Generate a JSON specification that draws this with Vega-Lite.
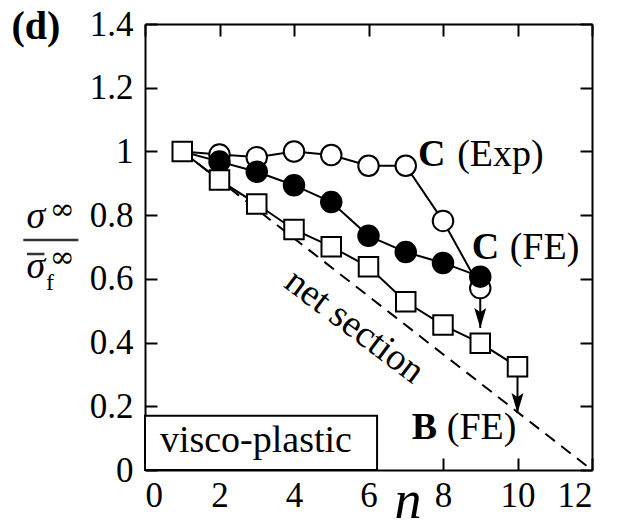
{
  "$schema": "https://vega.github.io/schema/vega-lite/v6.json",
  "autosize": "none",
  "width": 447,
  "height": 446,
  "padding": {"left": 145, "top": 24, "right": 30, "bottom": 61},
  "background": "white",
  "config": {
    "view": {"stroke": null},
    "font": "Liberation Serif",
    "style": {"guide-label": {"font": "Liberation Serif", "fontSize": 35, "fill": "black"}},
    "axis": {"grid": false, "domainColor": "black", "domainWidth": 2, "tickColor": "black", "tickWidth": 2, "tickSize": -12, "labelColor": "black", "labelFont": "Liberation Serif", "labelFontSize": 35, "title": null}
  },
  "datasets": {
    "series": [
      {"n": 1, "v": 1, "s": "exp"}, {"n": 2, "v": 0.99, "s": "exp"}, {"n": 3, "v": 0.982, "s": "exp"}, {"n": 4, "v": 1.0, "s": "exp"}, {"n": 5, "v": 0.989, "s": "exp"}, {"n": 6, "v": 0.955, "s": "exp"}, {"n": 7, "v": 0.955, "s": "exp"}, {"n": 8, "v": 0.782, "s": "exp"}, {"n": 9, "v": 0.571, "s": "exp"},
      {"n": 1, "v": 1, "s": "fe"}, {"n": 2, "v": 0.968, "s": "fe"}, {"n": 3, "v": 0.936, "s": "fe"}, {"n": 4, "v": 0.894, "s": "fe"}, {"n": 5, "v": 0.841, "s": "fe"}, {"n": 6, "v": 0.735, "s": "fe"}, {"n": 7, "v": 0.684, "s": "fe"}, {"n": 8, "v": 0.65, "s": "fe"}, {"n": 9, "v": 0.607, "s": "fe"},
      {"n": 1, "v": 1, "s": "b"}, {"n": 2, "v": 0.91, "s": "b"}, {"n": 3, "v": 0.835, "s": "b"}, {"n": 4, "v": 0.755, "s": "b"}, {"n": 5, "v": 0.701, "s": "b"}, {"n": 6, "v": 0.638, "s": "b"}, {"n": 7, "v": 0.528, "s": "b"}, {"n": 8, "v": 0.455, "s": "b"}, {"n": 9, "v": 0.398, "s": "b"}, {"n": 10, "v": 0.324, "s": "b"}
    ],
    "net": [{"n": 1, "v": 1}, {"n": 12, "v": 0}],
    "arrows": [{"n": 9, "from": 0.571, "to": 0.446}, {"n": 10, "from": 0.324, "to": 0.179}],
    "box": [{"x": 0, "x2": 6.23, "y": 0, "y2": 0.1705}],
    "bars": [{"x": -3.266, "x2": -1.789, "y": 0.722, "k": "frac"}, {"x": -3.17, "x2": -2.7, "y": 0.678, "k": "macron"}],
    "notes": [
      {"kind": "bold", "x": 7.33, "y": 0.989, "t": "C"},
      {"kind": "plain", "x": 8.38, "y": 0.989, "t": "(Exp)"},
      {"kind": "bold", "x": 8.77, "y": 0.697, "t": "C"},
      {"kind": "plain", "x": 9.79, "y": 0.697, "t": "(FE)"},
      {"kind": "bold", "x": 7.16, "y": 0.133, "t": "B"},
      {"kind": "plain", "x": 8.1, "y": 0.133, "t": "(FE)"},
      {"kind": "panel", "x": -2.93, "y": 1.39, "t": "(d)"},
      {"kind": "net", "x": 5.62, "y": 0.45, "t": "net section"},
      {"kind": "box", "x": 0.4, "y": 0.057, "t": "visco-plastic"},
      {"kind": "sigma", "x": -2.93, "y": 0.76, "t": "σ"},
      {"kind": "sigma", "x": -2.93, "y": 0.603, "t": "σ"},
      {"kind": "inf", "x": -2.22, "y": 0.815, "t": "∞"},
      {"kind": "inf", "x": -2.22, "y": 0.665, "t": "∞"},
      {"kind": "sub", "x": -2.55, "y": 0.565, "t": "f"},
      {"kind": "n", "x": 7.06, "y": -0.151, "t": "n"}
    ]
  },
  "layer": [
    {
      "data": {"name": "net"},
      "mark": {"type": "line", "color": "black", "strokeWidth": 2, "strokeDash": [12, 8]},
      "encoding": {
        "x": {"field": "n", "type": "quantitative", "scale": {"domain": [0, 12], "nice": false}, "axis": {"orient": "top", "labels": false, "values": [0, 2, 4, 6, 8, 10, 12]}},
        "y": {"field": "v", "type": "quantitative", "scale": {"domain": [0, 1.4], "nice": false}, "axis": {"orient": "right", "labels": false, "values": [0, 0.2, 0.4, 0.6, 0.8, 1, 1.2, 1.4]}}
      }
    },
    {
      "data": {"name": "series"},
      "mark": {"type": "line", "color": "black", "strokeWidth": 2},
      "encoding": {
        "x": {"field": "n", "type": "quantitative", "scale": {"domain": [0, 12], "nice": false}, "axis": {"orient": "bottom", "values": [0, 2, 4, 6, 8, 10, 12], "labelPadding": 20, "labelFont": "Liberation Serif", "labelFontSize": 35}},
        "y": {"field": "v", "type": "quantitative", "scale": {"domain": [0, 1.4], "nice": false}, "axis": {"orient": "left", "values": [0, 0.2, 0.4, 0.6, 0.8, 1, 1.2, 1.4], "format": "~g", "labelPadding": 24, "labelFont": "Liberation Serif", "labelFontSize": 35}},
        "detail": {"field": "s"}
      }
    },
    {
      "data": {"name": "arrows"},
      "mark": {"type": "rule", "color": "black", "strokeWidth": 2},
      "encoding": {
        "x": {"field": "n", "type": "quantitative", "scale": {"domain": [0, 12], "nice": false}, "axis": null},
        "y": {"field": "from", "type": "quantitative", "scale": {"domain": [0, 1.4], "nice": false}, "axis": null},
        "y2": {"field": "to"}
      }
    },
    {
      "data": {"name": "arrows"},
      "mark": {"type": "point", "shape": "M0,0L-0.3,-1L0,-0.8L0.3,-1Z", "size": 1600, "filled": true, "color": "black", "strokeWidth": 0, "opacity": 1},
      "encoding": {
        "x": {"field": "n", "type": "quantitative", "scale": {"domain": [0, 12], "nice": false}, "axis": null},
        "y": {"field": "to", "type": "quantitative", "scale": {"domain": [0, 1.4], "nice": false}, "axis": null}
      }
    },
    {
      "data": {"name": "series"},
      "transform": [{"filter": "datum.s == 'exp' && datum.n >= 2"}],
      "mark": {"type": "point", "shape": "circle", "size": 420, "filled": true, "fill": "white", "stroke": "black", "strokeWidth": 2, "opacity": 1},
      "encoding": {
        "x": {"field": "n", "type": "quantitative", "scale": {"domain": [0, 12], "nice": false}, "axis": null},
        "y": {"field": "v", "type": "quantitative", "scale": {"domain": [0, 1.4], "nice": false}, "axis": null}
      }
    },
    {
      "data": {"name": "series"},
      "transform": [{"filter": "datum.s == 'fe' && datum.n >= 2"}],
      "mark": {"type": "point", "shape": "circle", "size": 420, "filled": true, "fill": "black", "stroke": "black", "strokeWidth": 2, "opacity": 1},
      "encoding": {
        "x": {"field": "n", "type": "quantitative", "scale": {"domain": [0, 12], "nice": false}, "axis": null},
        "y": {"field": "v", "type": "quantitative", "scale": {"domain": [0, 1.4], "nice": false}, "axis": null}
      }
    },
    {
      "data": {"name": "series"},
      "transform": [{"filter": "datum.s == 'b'"}],
      "mark": {"type": "point", "shape": "square", "size": 380, "filled": true, "fill": "white", "stroke": "black", "strokeWidth": 2, "opacity": 1},
      "encoding": {
        "x": {"field": "n", "type": "quantitative", "scale": {"domain": [0, 12], "nice": false}, "axis": null},
        "y": {"field": "v", "type": "quantitative", "scale": {"domain": [0, 1.4], "nice": false}, "axis": null}
      }
    },
    {
      "data": {"name": "box"},
      "mark": {"type": "rect", "fill": "white", "stroke": "black", "strokeWidth": 2},
      "encoding": {
        "x": {"field": "x", "type": "quantitative", "scale": {"domain": [0, 12], "nice": false}, "axis": null},
        "x2": {"field": "x2"},
        "y": {"field": "y", "type": "quantitative", "scale": {"domain": [0, 1.4], "nice": false}, "axis": null},
        "y2": {"field": "y2"}
      }
    },
    {
      "data": {"name": "bars"},
      "mark": {"type": "rule", "color": "#333", "strokeWidth": 2.5},
      "encoding": {
        "x": {"field": "x", "type": "quantitative", "scale": {"domain": [0, 12], "nice": false}, "axis": null},
        "x2": {"field": "x2"},
        "y": {"field": "y", "type": "quantitative", "scale": {"domain": [0, 1.4], "nice": false}, "axis": null}
      }
    },
    {
      "data": {"name": "notes"},
      "transform": [{"filter": "datum.kind == 'bold'"}],
      "mark": {"type": "text", "font": "Liberation Serif", "fontSize": 38, "fontWeight": "bold", "align": "left", "baseline": "middle", "color": "black"},
      "encoding": {
        "x": {"field": "x", "type": "quantitative", "scale": {"domain": [0, 12], "nice": false}, "axis": null},
        "y": {"field": "y", "type": "quantitative", "scale": {"domain": [0, 1.4], "nice": false}, "axis": null},
        "text": {"field": "t"}
      }
    },
    {
      "data": {"name": "notes"},
      "transform": [{"filter": "datum.kind == 'plain'"}],
      "mark": {"type": "text", "font": "Liberation Serif", "fontSize": 38, "align": "left", "baseline": "middle", "color": "black"},
      "encoding": {
        "x": {"field": "x", "type": "quantitative", "scale": {"domain": [0, 12], "nice": false}, "axis": null},
        "y": {"field": "y", "type": "quantitative", "scale": {"domain": [0, 1.4], "nice": false}, "axis": null},
        "text": {"field": "t"}
      }
    },
    {
      "data": {"name": "notes"},
      "transform": [{"filter": "datum.kind == 'panel'"}],
      "mark": {"type": "text", "font": "Liberation Serif", "fontSize": 40, "fontWeight": "bold", "align": "center", "baseline": "middle", "color": "black"},
      "encoding": {
        "x": {"field": "x", "type": "quantitative", "scale": {"domain": [0, 12], "nice": false}, "axis": null},
        "y": {"field": "y", "type": "quantitative", "scale": {"domain": [0, 1.4], "nice": false}, "axis": null},
        "text": {"field": "t"}
      }
    },
    {
      "data": {"name": "notes"},
      "transform": [{"filter": "datum.kind == 'net'"}],
      "mark": {"type": "text", "font": "Liberation Serif", "fontSize": 38, "angle": 37, "align": "center", "baseline": "middle", "color": "black"},
      "encoding": {
        "x": {"field": "x", "type": "quantitative", "scale": {"domain": [0, 12], "nice": false}, "axis": null},
        "y": {"field": "y", "type": "quantitative", "scale": {"domain": [0, 1.4], "nice": false}, "axis": null},
        "text": {"field": "t"}
      }
    },
    {
      "data": {"name": "notes"},
      "transform": [{"filter": "datum.kind == 'box'"}],
      "mark": {"type": "text", "font": "Liberation Serif", "fontSize": 38, "align": "left", "baseline": "alphabetic", "color": "black"},
      "encoding": {
        "x": {"field": "x", "type": "quantitative", "scale": {"domain": [0, 12], "nice": false}, "axis": null},
        "y": {"field": "y", "type": "quantitative", "scale": {"domain": [0, 1.4], "nice": false}, "axis": null},
        "text": {"field": "t"}
      }
    },
    {
      "data": {"name": "notes"},
      "transform": [{"filter": "datum.kind == 'sigma'"}],
      "mark": {"type": "text", "font": "Liberation Serif", "fontSize": 38, "fontStyle": "italic", "align": "center", "baseline": "alphabetic", "color": "black"},
      "encoding": {
        "x": {"field": "x", "type": "quantitative", "scale": {"domain": [0, 12], "nice": false}, "axis": null},
        "y": {"field": "y", "type": "quantitative", "scale": {"domain": [0, 1.4], "nice": false}, "axis": null},
        "text": {"field": "t"}
      }
    },
    {
      "data": {"name": "notes"},
      "transform": [{"filter": "datum.kind == 'inf'"}],
      "mark": {"type": "text", "font": "DejaVu Serif", "fontSize": 30, "align": "center", "baseline": "middle", "color": "black"},
      "encoding": {
        "x": {"field": "x", "type": "quantitative", "scale": {"domain": [0, 12], "nice": false}, "axis": null},
        "y": {"field": "y", "type": "quantitative", "scale": {"domain": [0, 1.4], "nice": false}, "axis": null},
        "text": {"field": "t"}
      }
    },
    {
      "data": {"name": "notes"},
      "transform": [{"filter": "datum.kind == 'sub'"}],
      "mark": {"type": "text", "font": "Liberation Serif", "fontSize": 24, "align": "center", "baseline": "alphabetic", "color": "black"},
      "encoding": {
        "x": {"field": "x", "type": "quantitative", "scale": {"domain": [0, 12], "nice": false}, "axis": null},
        "y": {"field": "y", "type": "quantitative", "scale": {"domain": [0, 1.4], "nice": false}, "axis": null},
        "text": {"field": "t"}
      }
    },
    {
      "data": {"name": "notes"},
      "transform": [{"filter": "datum.kind == 'n'"}],
      "mark": {"type": "text", "font": "Liberation Serif", "fontSize": 54, "fontStyle": "italic", "align": "center", "baseline": "alphabetic", "color": "black"},
      "encoding": {
        "x": {"field": "x", "type": "quantitative", "scale": {"domain": [0, 12], "nice": false}, "axis": null},
        "y": {"field": "y", "type": "quantitative", "scale": {"domain": [0, 1.4], "nice": false}, "axis": null},
        "text": {"field": "t"}
      }
    }
  ],
  "resolve": {"axis": {"x": "independent", "y": "independent"}}
}
